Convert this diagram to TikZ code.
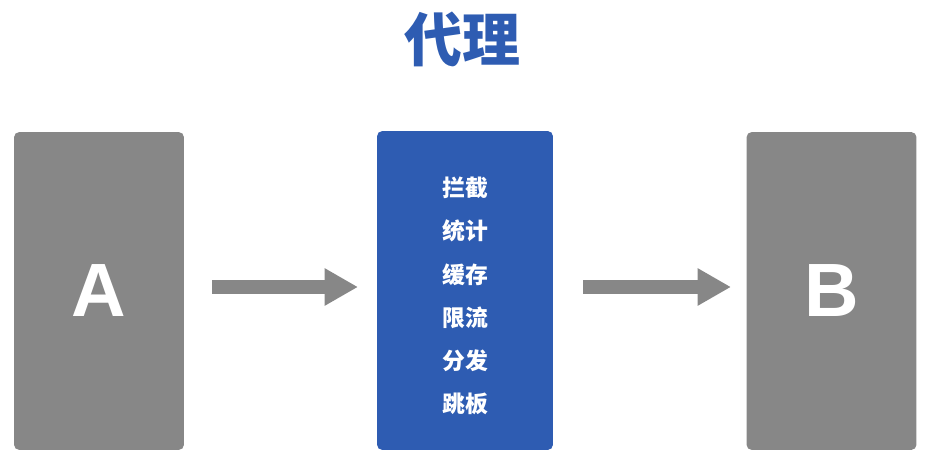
\documentclass[tikz,border=0pt]{standalone}
\usepackage{fontspec}
\setmainfont{Liberation Sans}
\newfontfamily\cjk{Noto Sans CJK SC}
\usetikzlibrary{arrows.meta, positioning}
\definecolor{boxgray}{HTML}{878787}
\definecolor{proxyblue}{HTML}{2E5CB2}
\begin{document}
\begin{tikzpicture}[x=0.02cm, y=-0.02cm,
  endbox/.style={rectangle, rounded corners=3pt, fill=boxgray, minimum width=3.4cm, minimum height=6.36cm, text=white, font=\fontsize{43}{43}\bfseries\selectfont},
  flow/.style={-{Triangle[length=19pt, width=20pt]}, boxgray, line width=8pt},
]
\useasboundingbox (0,0) rectangle (932,462);

\node[font=\cjk\bfseries\fontsize{33}{33}\selectfont, text=proxyblue] (title) at (462,40) {代理};

\node[endbox] (a) at (99,291) {A};
\node[endbox, fill=proxyblue, minimum width=3.52cm, minimum height=6.38cm] (proxy) at (465,290.5) {};
\node[endbox] (b) at (831.5,291) {B};

% functions of the proxy
\foreach \txt [count=\i] in {拦截,统计,缓存,限流,分发,跳板}
  \node[font=\cjk\bfseries\fontsize{13}{13}\selectfont, text=white] at (465,{188+43.2*(\i-1)}) {\txt};

% flow
\coordinate (a1) at (212,287);
\coordinate (a2) at (358,287);
\coordinate (b1) at (583,287);
\coordinate (b2) at (731,287);
\draw[flow] (a1) -- (a2);
\draw[flow] (b1) -- (b2);
\end{tikzpicture}
\end{document}
